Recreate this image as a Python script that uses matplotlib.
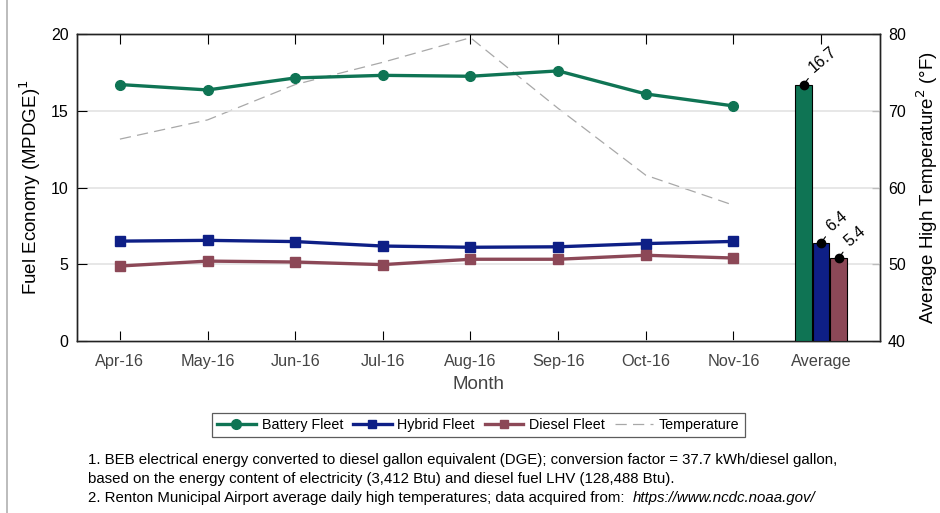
import numpy as np
import matplotlib.pyplot as plt
from matplotlib.lines import Line2D

plt.rcParams['font.family'] = ['Liberation Sans', 'DejaVu Sans']

months = ["Apr-16", "May-16", "Jun-16", "Jul-16", "Aug-16", "Sep-16", "Oct-16", "Nov-16"]
battery = [16.7, 16.35, 17.13, 17.3, 17.24, 17.59, 16.09, 15.31]
hybrid = [6.51, 6.56, 6.48, 6.19, 6.11, 6.14, 6.35, 6.49]
diesel = [4.89, 5.21, 5.15, 4.98, 5.33, 5.33, 5.59, 5.41]
temperature = [66.3, 68.8, 73.4, 76.3, 79.5, 70.3, 61.6, 57.7]
avg_labels = ["Battery Fleet", "Hybrid Fleet", "Diesel Fleet"]
avg_values = [16.7, 6.4, 5.4]

green = "#0f7454"
blue = "#0e1f86"
maroon = "#8c4857"
colors = [green, blue, maroon]

fig = plt.figure(figsize=(9.4, 5.13), dpi=100)
ax = fig.add_axes([0.0819, 0.335, 0.854, 0.599])
ax2 = ax.twinx()
ax.set_zorder(ax2.get_zorder() + 1)
ax.patch.set_visible(False)

x = np.arange(len(months))

# temperature on right axis, behind the fleets
ax2.plot(x, temperature, color="#a8a8a8", lw=0.9, dashes=(9, 5))
ax2.set_ylim(40, 80)
ax2.set_yticks([40, 50, 60, 70, 80])
ax2.tick_params(axis="y", direction="in", labelsize=11.5, length=6, pad=6)
ax2.set_ylabel("Average High Temperature$^2$ (°F)", fontsize=13.5, labelpad=6)

ax.plot(x, battery, color=green, lw=2.4, marker="o", ms=7)
ax.plot(x, hybrid, color=blue, lw=2.4, marker="s", ms=6.5)
ax.plot(x, diesel, color=maroon, lw=2.4, marker="s", ms=6.5)

# average bars
avg_x = len(months)
offsets = [-0.2, 0.0, 0.2]
for off, val, c in zip(offsets, avg_values, colors):
    ax.bar(avg_x + off, val, width=0.19, color=c, edgecolor="black", linewidth=0.8, zorder=3)
    ax.plot(avg_x + off, val, "o", color="black", ms=6, zorder=4)
    ax.annotate(f"{val:.1f}", xy=(avg_x + off, val), xytext=(7.5, 8),
                textcoords="offset points", rotation=40, fontsize=11.5,
                ha="left", va="baseline", rotation_mode="anchor",
                arrowprops=dict(arrowstyle="-", color="black", lw=0.8, shrinkA=0, shrinkB=0),
                zorder=5)

ax.set_xlim(-0.49, 8.67)
ax.set_ylim(0, 20)
ax.set_yticks([0, 5, 10, 15, 20])
ax.set_xticks(list(x) + [avg_x])
ax.set_xticklabels(months + ["Average"], color="#444444")
ax.tick_params(axis="x", direction="in", labelsize=11.7, length=7, pad=9, top=True)
ax.tick_params(axis="y", direction="in", labelsize=11.5, length=7, pad=6)
ax.grid(axis="y", color="#e3e3e3", lw=1.2)
ax.set_axisbelow(True)
ax.set_xlabel("Month", fontsize=13.5, color="#444444", labelpad=5)
ax.set_ylabel("Fuel Economy (MPDGE)$^1$", fontsize=13.5, labelpad=6)

for a in (ax, ax2):
    for s in a.spines.values():
        s.set_color("#222222")
        s.set_linewidth(1.0)

handles = [
    Line2D([], [], color=green, lw=2.4, marker="o", ms=7),
    Line2D([], [], color=blue, lw=2.4, marker="s", ms=6),
    Line2D([], [], color=maroon, lw=2.4, marker="s", ms=6),
    Line2D([], [], color="#a8a8a8", lw=0.9, dashes=(9, 5)),
]
leg = fig.legend(handles, avg_labels + ["Temperature"], loc="center",
                 bbox_to_anchor=(0.509, 0.1706), ncol=4, fontsize=10.3,
                 frameon=True, fancybox=False, edgecolor="#333333",
                 handlelength=2.7, handletextpad=0.4, columnspacing=0.7,
                 borderpad=0.35)
leg.get_frame().set_linewidth(0.9)

notes = [
    "1. BEB electrical energy converted to diesel gallon equivalent (DGE); conversion factor = 37.7 kWh/diesel gallon,",
    "based on the energy content of electricity (3,412 Btu) and diesel fuel LHV (128,488 Btu).",
]
fs_note = 10.8
fig.text(88 / 940, 1 - 460 / 513, notes[0], fontsize=fs_note, va="center")
fig.text(88 / 940, 1 - 479 / 513, notes[1], fontsize=fs_note, va="center")
t = fig.text(88 / 940, 1 - 498 / 513,
             "2. Renton Municipal Airport average daily high temperatures; data acquired from:  ",
             fontsize=fs_note, va="center")
fig.canvas.draw()
bb = t.get_window_extent()
fig.text(bb.x1 / fig.bbox.width, 1 - 498 / 513, "https://www.ncdc.noaa.gov/",
         fontsize=fs_note, va="center", style="italic")

# left page border
fig.add_artist(Line2D([7 / 940, 7 / 940], [0, 1], color="#b0b0b0", lw=1.2,
                      transform=fig.transFigure))

fig.savefig("out.png", dpi=100)
